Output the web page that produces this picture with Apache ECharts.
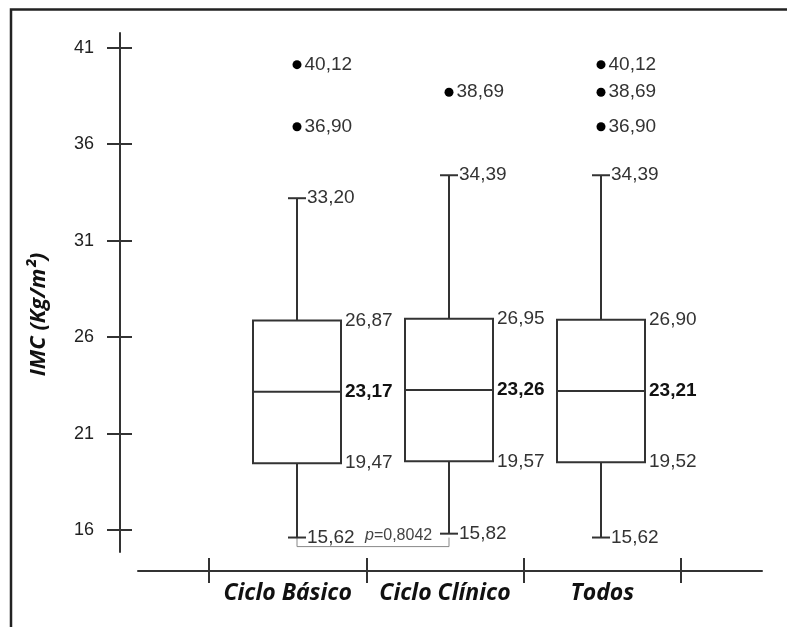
<!DOCTYPE html>
<html>
<head>
<meta charset="utf-8">
<script src="https://cdn.jsdelivr.net/npm/echarts@6/dist/echarts.min.js"></script>
<style>html,body{margin:0;padding:0;background:#fff;}#chart{width:787px;height:627px;}</style>
</head>
<body>
<div id="chart"></div>
<script>
// ---- data ----
const categories = ['Ciclo Básico', 'Ciclo Clínico', 'Todos'];
const lowerWhisker = [15.62, 15.82, 15.62];
const q1 = [19.47, 19.57, 19.52];
const median = [23.17, 23.26, 23.21];
const q3 = [26.87, 26.95, 26.90];
const upperWhisker = [33.20, 34.39, 34.39];
const outliers = [[40.12, 36.90], [38.69], [40.12, 38.69, 36.90]];
const yTicks = [16, 21, 26, 31, 36, 41];
const xBandTicks = [0, 1, 2, 3];
const pValue = '0,8042';
const pCompare = [0, 1];   // compared groups
const pBracketLevel = 15.15;

// ---- helpers ----
const fmt = v => v.toFixed(2).replace('.', ',');
const NUM_FONT = 'Liberation Sans, Arial, sans-serif';
const LABEL_COLOR = '#333';
const boxData = categories.map((c, i) => [i + 0.5, lowerWhisker[i], q1[i], median[i], q3[i], upperWhisker[i]]);
const outlierData = [];
outliers.forEach((arr, i) => arr.forEach(v => outlierData.push([i + 0.5, v])));

const Y_MIN = 14.87, Y_MAX = 41.76;
const X_MIN = -0.451, X_MAX = 3.515;

const chart = echarts.init(document.getElementById('chart'), null, {renderer: 'canvas'});

function renderBox(params, api) {
  const x = api.value(0);
  const low = api.coord([x, api.value(1)]);
  const a = api.coord([x, api.value(2)]);
  const m = api.coord([x, api.value(3)]);
  const b = api.coord([x, api.value(4)]);
  const high = api.coord([x, api.value(5)]);
  const cx = low[0], hw = 44, cw = 9;
  const ls = {stroke: '#333', lineWidth: 2};
  const txt = (t, tx, ty, bold) => ({
    type: 'text',
    style: {text: t, x: tx, y: ty, textAlign: 'left', textVerticalAlign: 'middle',
      font: (bold ? 'bold ' : '') + '19px ' + NUM_FONT, fill: bold ? '#111' : LABEL_COLOR}
  });
  return {
    type: 'group',
    children: [
      {type: 'line', shape: {x1: cx, y1: b[1], x2: cx, y2: high[1]}, style: ls},
      {type: 'line', shape: {x1: cx, y1: a[1], x2: cx, y2: low[1]}, style: ls},
      {type: 'line', shape: {x1: cx - cw, y1: high[1], x2: cx + cw, y2: high[1]}, style: ls},
      {type: 'line', shape: {x1: cx - cw, y1: low[1], x2: cx + cw, y2: low[1]}, style: ls},
      {type: 'rect', shape: {x: cx - hw, y: b[1], width: 2 * hw, height: a[1] - b[1]},
        style: {fill: '#fff', stroke: '#333', lineWidth: 2}},
      {type: 'line', shape: {x1: cx - hw, y1: m[1], x2: cx + hw, y2: m[1]}, style: ls},
      txt(fmt(api.value(4)), cx + hw + 4, b[1], false),
      txt(fmt(api.value(3)), cx + hw + 4, m[1], true),
      txt(fmt(api.value(2)), cx + hw + 4, a[1], false),
      txt(fmt(api.value(5)), cx + cw + 1, high[1], false),
      txt(fmt(api.value(1)), cx + cw + 1, low[1], false)
    ]
  };
}

function renderBracket(params, api) {
  const p1 = api.coord([api.value(0), api.value(2)]);
  const p2 = api.coord([api.value(1), api.value(2)]);
  return {
    type: 'group',
    children: [
      {type: 'polyline', shape: {points: [[p1[0], p1[1] - 9], [p1[0], p1[1]], [p2[0], p2[1]], [p2[0], p2[1] - 9]]},
        style: {stroke: '#888', lineWidth: 1, fill: null}},
      {type: 'text', style: {
        text: '{i|p}=' + pValue, x: p1[0] + 68, y: p1[1] - 11,
        textAlign: 'left', textVerticalAlign: 'middle',
        font: '16px ' + NUM_FONT, fill: '#444',
        rich: {i: {fontStyle: 'italic', fontSize: 16, fontFamily: NUM_FONT, fill: '#444'}}
      }}
    ]
  };
}

const tickStyle = {color: '#333', width: 2};
const hiddenAxis = (g, min, max) => ({gridIndex: g, type: 'value', min, max, show: false});

const option = {
  backgroundColor: '#fff',
  animation: false,
  graphic: [{
    type: 'polyline', silent: true,
    shape: {points: [[11, 627], [11, 9.5], [787, 9.5]]},
    style: {stroke: '#222', lineWidth: 2.5, fill: null}
  }],
  grid: [
    {left: 221, right: 110, top: 33, bottom: 75},   // boxes + y axis (outer ticks)
    {left: 138, right: 25, top: 33, bottom: 56},    // category x axis (outer ticks)
    {left: 221, right: 110, top: 33, bottom: 75},   // y axis inner ticks
    {left: 138, right: 25, top: 33, bottom: 56}     // x axis inner ticks
  ],
  xAxis: [
    hiddenAxis(0, 0, 3),
    {gridIndex: 1, type: 'value', min: X_MIN, max: X_MAX, position: 'bottom',
      axisLine: {show: true, onZero: false, lineStyle: {color: '#333', width: 2}},
      axisTick: {show: true, customValues: xBandTicks, length: 12, inside: false, lineStyle: tickStyle},
      axisLabel: {show: true, customValues: [0.5, 1.5, 2.5], margin: 11,
        formatter: v => categories[Math.floor(v)],
        fontFamily: 'Open Sans, sans-serif', fontStyle: 'italic', fontWeight: 'bold', fontSize: 23, color: '#111'},
      splitLine: {show: false}},
    hiddenAxis(2, 0, 3),
    {gridIndex: 3, type: 'value', min: X_MIN, max: X_MAX, position: 'bottom',
      axisLine: {show: false, onZero: false},
      axisTick: {show: true, customValues: xBandTicks, length: 13, inside: true, lineStyle: tickStyle},
      axisLabel: {show: false}, splitLine: {show: false}}
  ],
  yAxis: [
    {gridIndex: 0, type: 'value', min: Y_MIN, max: Y_MAX, offset: 101, position: 'left',
      name: 'IMC (Kg/m²)', nameLocation: 'middle', nameRotate: 90, nameGap: 70,
      nameTextStyle: {fontFamily: 'Open Sans, sans-serif', fontStyle: 'italic', fontWeight: 'bold', fontSize: 22, color: '#111', padding: [0, 44, 0, 0]},
      axisLine: {show: true, onZero: false, lineStyle: {color: '#333', width: 2}},
      axisTick: {show: true, customValues: yTicks, length: 13, inside: false, lineStyle: tickStyle},
      axisLabel: {show: true, customValues: yTicks, margin: 26, fontFamily: NUM_FONT, fontSize: 18, color: '#222'},
      splitLine: {show: false}},
    hiddenAxis(1, 0, 1),
    {gridIndex: 2, type: 'value', min: Y_MIN, max: Y_MAX, offset: 101, position: 'left',
      axisLine: {show: false, onZero: false},
      axisTick: {show: true, customValues: yTicks, length: 12, inside: true, lineStyle: tickStyle},
      axisLabel: {show: false}, splitLine: {show: false}},
    hiddenAxis(3, 0, 1)
  ],
  series: [
    {type: 'custom', xAxisIndex: 0, yAxisIndex: 0, renderItem: renderBox, data: boxData, clip: false, z: 3},
    {type: 'scatter', xAxisIndex: 0, yAxisIndex: 0, data: outlierData, symbol: 'circle', symbolSize: 9,
      itemStyle: {color: '#000', opacity: 1},
      label: {show: true, position: 'right', distance: 3, formatter: p => fmt(p.value[1]),
        fontFamily: NUM_FONT, fontSize: 19, color: LABEL_COLOR}, z: 4},
    {type: 'custom', xAxisIndex: 0, yAxisIndex: 0, renderItem: renderBracket,
      data: [[pCompare[0] + 0.5, pCompare[1] + 0.5, pBracketLevel]], clip: false, z: 2}
  ]
};
chart.setOption(option);
</script>
</body>
</html>
